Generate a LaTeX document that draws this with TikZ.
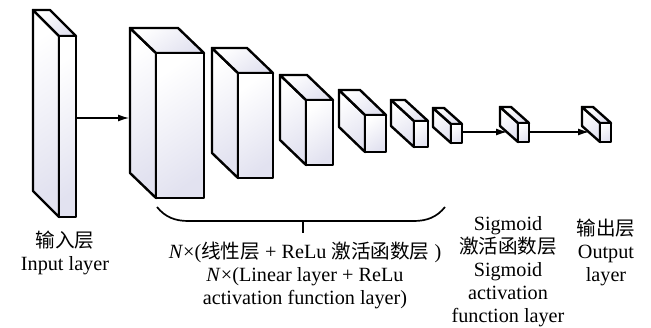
\documentclass[tikz,border=0pt]{standalone}
\usepackage{fontspec}
\setmainfont{Liberation Serif}
\newfontfamily\cjk[Scale=0.97]{Noto Sans CJK SC}
\usetikzlibrary{arrows.meta}
\definecolor{lav}{RGB}{226,226,240}
\tikzset{
  face/.style={draw=black, line width=2.4pt, line join=round, top color=white, bottom color=lav, shading angle=35},
  arr/.style={line width=1.2pt, -{Latex[length=11pt,width=7pt]}},
  brace/.style={line width=1.7pt},
  lbl/.style={font=\fontsize{20.2}{23}\selectfont, align=center, inner sep=0pt}
}
% #1 name, #2 front left x, #3 front top y, #4 front right x, #5 front bottom y, #6 dx, #7 dy
\newcommand\mycube[7]{%
  \path[face] ({#2-#6},{#3-#7}) -- (#2,#3) -- (#2,#5) -- ({#2-#6},{#5-#7}) -- cycle;
  \path[face] ({#2-#6},{#3-#7}) -- ({#4-#6},{#3-#7}) -- (#4,#3) -- (#2,#3) -- cycle;
  \path[face] (#2,#3) rectangle (#4,#5);
  \coordinate (#1-ftl) at (#2,#3);
  \coordinate (#1-fbr) at (#4,#5);
}
\begin{document}
\begin{tikzpicture}[x=1pt,y=-1pt]
\useasboundingbox (0,0) rectangle (651,328);
\mycube{b1}{59}{36}{76}{217}{26}{26}
\mycube{b2}{156}{53}{204}{198}{26}{25}
\mycube{b3}{238}{73}{273}{178}{26}{25}
\mycube{b4}{306}{100}{333}{165}{26}{25}
\mycube{b5}{365}{115}{386}{152}{26}{25}
\mycube{b6}{414}{121}{428}{147}{23}{21}
\mycube{b7}{451}{124}{462}{143}{18}{16}
\mycube{b8}{518}{123}{529}{142}{18}{16}
\mycube{b9}{600}{123}{611}{142}{18}{16}
% connector end points on the faces
\coordinate (o1) at (77,118);
\coordinate (i2) at (129,118);
\coordinate (o7) at (463,132);
\coordinate (i8) at (507,132);
\coordinate (o8) at (530,132);
\coordinate (i9) at (589,132);
\draw[arr] (o1) -- (i2);
\draw[arr] (o7) -- (i8);
\draw[arr] (o8) -- (i9);
% brace
\coordinate (brL) at (157,207);
\coordinate (brR) at (445,207);
\coordinate (brM) at (303,221);
\coordinate (brT) at (303,233);
\draw[brace] (brL) .. controls (165,217) and (175,221) .. (188,221) -- (414,221) .. controls (427,221) and (437,217) .. (brR);
\draw[brace] (brM) -- (brT);
% labels
\node[lbl] (tin) at (65,253) {{\cjk 输入层}\\Input layer};
\node[lbl] (tmid) at (305,275) {\textit{N}×({\cjk 线性层} + ReLu {\cjk 激活函数层} )\\\textit{N}×(Linear layer + ReLu\\activation function layer)};
\node[lbl] (tsig) at (508,272) {Sigmoid\\{\cjk 激活函数层}\\Sigmoid\\activation\\function layer};
\node[lbl] (tout) at (606,252) {{\cjk 输出层}\\Output\\layer};
\end{tikzpicture}
\end{document}
